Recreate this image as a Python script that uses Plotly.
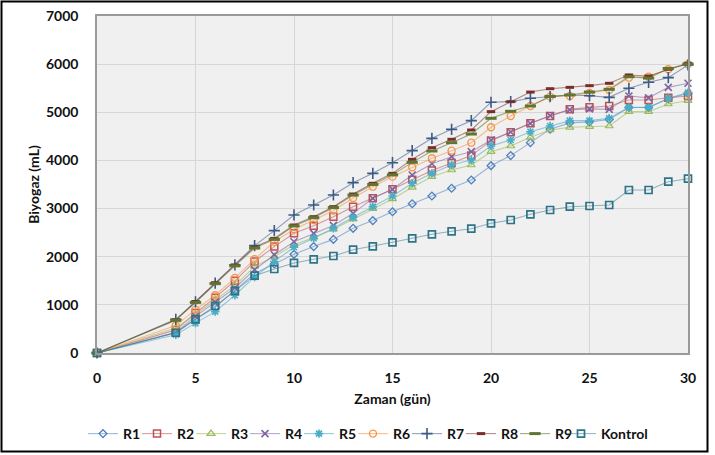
import plotly.graph_objects as go

days = [0, 4, 5, 6, 7, 8, 9, 10, 11, 12, 13, 14, 15, 16, 17, 18, 19, 20,
        21, 22, 23, 24, 25, 26, 27, 28, 29, 30]

R1 = [0, 420, 700, 950, 1300, 1650, 1850, 2050, 2210, 2360, 2590, 2750, 2935, 3100,
      3261, 3421, 3594, 3891, 4100, 4369, 4650, 4780, 4800, 4850, 5100, 5100, 5280, 5390]
R2 = [0, 480, 830, 1150, 1500, 1900, 2210, 2486, 2645, 2832, 3040, 3213, 3400, 3600,
      3790, 3945, 4100, 4411, 4584, 4771, 4923, 5061, 5103, 5131, 5256, 5256, 5303, 5338]
R3 = [0, 520, 800, 1100, 1400, 1800, 2000, 2250, 2400, 2570, 2780, 3000, 3200, 3442,
      3663, 3801, 3905, 4182, 4300, 4480, 4632, 4688, 4702, 4715, 5013, 5013, 5172, 5241]
R4 = [0, 430, 760, 1060, 1350, 1730, 2040, 2310, 2486, 2650, 2901, 3213, 3400, 3697,
      3930, 4078, 4182, 4425, 4590, 4770, 4930, 5050, 5070, 5060, 5338, 5300, 5518, 5602]
R5 = [0, 380, 620, 860, 1200, 1580, 1900, 2196, 2382, 2590, 2818, 3040, 3261, 3525,
      3732, 3905, 4009, 4300, 4425, 4597, 4715, 4826, 4826, 4875, 5103, 5103, 5291, 5408]
R6 = [0, 570, 900, 1200, 1560, 1950, 2310, 2570, 2760, 2960, 3220, 3455, 3663, 3857,
      4044, 4203, 4369, 4688, 4923, 5131, 5325, 5338, 5400, 5463, 5719, 5740, 5893, 5998]
R7 = [0, 700, 1060, 1450, 1830, 2230, 2541, 2867, 3074, 3282, 3538, 3732, 3953, 4203,
      4459, 4646, 4826, 5208, 5221, 5291, 5325, 5360, 5345, 5310, 5498, 5623, 5719, 5983]
R8 = [0, 690, 1070, 1460, 1830, 2200, 2380, 2659, 2832, 3040, 3303, 3525, 3732, 4023,
      4265, 4439, 4632, 5013, 5221, 5420, 5490, 5518, 5553, 5602, 5775, 5754, 5893, 6018]
R9 = [0, 680, 1050, 1440, 1810, 2180, 2360, 2640, 2810, 3020, 3280, 3500, 3700, 3960,
      4196, 4369, 4549, 4875, 5020, 5131, 5330, 5360, 5420, 5477, 5740, 5710, 5910, 6003]
Kontrol = [0, 421, 700, 976, 1290, 1606, 1745, 1870, 1946, 2015, 2146, 2216, 2299, 2382,
           2465, 2528, 2582, 2694, 2763, 2881, 2970, 3039, 3053, 3074, 3386, 3386, 3559, 3620]

names = ["R1", "R2", "R3", "R4", "R5", "R6", "R7", "R8", "R9", "Kontrol"]
series = [R1, R2, R3, R4, R5, R6, R7, R8, R9, Kontrol]
colors = ["#4F81BD", "#C0504D", "#9BBB59", "#8064A2", "#4BACC6",
          "#F79646", "#3B5A85", "#7A2E2C", "#5F7530", "#2E7489"]
line_colors = ["rgba(79,129,189,0.55)", "rgba(192,80,77,0.55)", "rgba(155,187,89,0.6)",
               "rgba(128,100,162,0.55)", "rgba(75,172,198,0.6)", "rgba(247,150,70,0.6)",
               "rgba(59,90,133,0.55)", "rgba(122,46,44,0.55)", "rgba(95,117,48,0.6)",
               "rgba(46,116,137,0.5)"]
symbols = ["diamond-open", "square-open", "triangle-up-open", "x-thin-open",
           "asterisk-open", "circle-open", "cross-thin-open", "line-ew-open",
           "line-ew-open", "square-open"]
sizes = [6, 7, 7, 7, 7, 7, 8, 6, 8, 7]
mwidths = [1.3, 1.5, 1.2, 1.6, 1.6, 1.4, 1.6, 3, 3, 1.7]
legend_ids = ["legend"] * 9 + ["legend2"]

fig = go.Figure()
for n, s, c, lc, sym, sz, mw, lg in zip(names, series, colors, line_colors, symbols,
                                        sizes, mwidths, legend_ids):
    fig.add_trace(go.Scatter(
        x=days, y=s, name=n, mode="lines+markers", legend=lg,
        line=dict(color=lc, width=1.1),
        marker=dict(symbol=sym, size=sz, color=c, line=dict(color=c, width=mw)),
        cliponaxis=False,
    ))
# invisible spacer entry so the last label of the first legend is not clipped
fig.add_trace(go.Scatter(x=[None], y=[None], name=" ", mode="markers", legend="legend",
                         marker=dict(size=0, color="rgba(0,0,0,0)",
                                     line=dict(width=0, color="rgba(0,0,0,0)")),
                         hoverinfo="skip"))

font_family = "Lato, Open Sans, sans-serif"
legend_common = dict(orientation="h", xanchor="left", yref="container", xref="container",
                     y=1 - 434 / 455, yanchor="middle",
                     font=dict(size=14, weight="bold"), itemwidth=30, tracegroupgap=0,
                     bgcolor="rgba(0,0,0,0)")
fig.update_layout(
    width=715, height=455,
    margin=dict(l=97, r=27, t=16, b=102, autoexpand=False),
    paper_bgcolor="white",
    plot_bgcolor="#f0f0f0",
    font=dict(family=font_family, size=13, color="#111111", weight="bold"),
    showlegend=True,
    legend=dict(x=83 / 715, entrywidth=9, entrywidthmode="pixels", **legend_common),
    legend2=dict(x=561 / 715, **legend_common),
    xaxis=dict(range=[0, 30], dtick=5, tick0=0, showgrid=True, gridcolor="#d6d6d6",
               gridwidth=1, zeroline=False, showline=True, linecolor="#9a9a9a",
               linewidth=1.5, mirror=True, ticks="", ticklabelstandoff=11,
               automargin=False,
               title=dict(text="Zaman (gün)", standoff=10,
                          font=dict(size=14, weight="bold")),
               tickfont=dict(size=14, weight="bold")),
    yaxis=dict(range=[0, 7000], dtick=1000, tick0=0, showgrid=True, gridcolor="#d6d6d6",
               gridwidth=1, zeroline=False, showline=True, linecolor="#9a9a9a",
               linewidth=1.5, mirror=True, ticks="", ticklabelstandoff=14,
               automargin=False,
               title=dict(text="Biyogaz (mL)", standoff=3,
                          font=dict(size=14, weight="bold")),
               tickfont=dict(size=14, weight="bold")),
    shapes=[dict(type="rect", xref="paper", yref="paper",
                 x0=(1.5 - 97) / 591, x1=(707.5 - 97) / 591,
                 y0=(353 - 451.5) / 337, y1=(353 - 1.5) / 337,
                 line=dict(color="black", width=2), layer="below")],
)

fig.write_html("out.html")
